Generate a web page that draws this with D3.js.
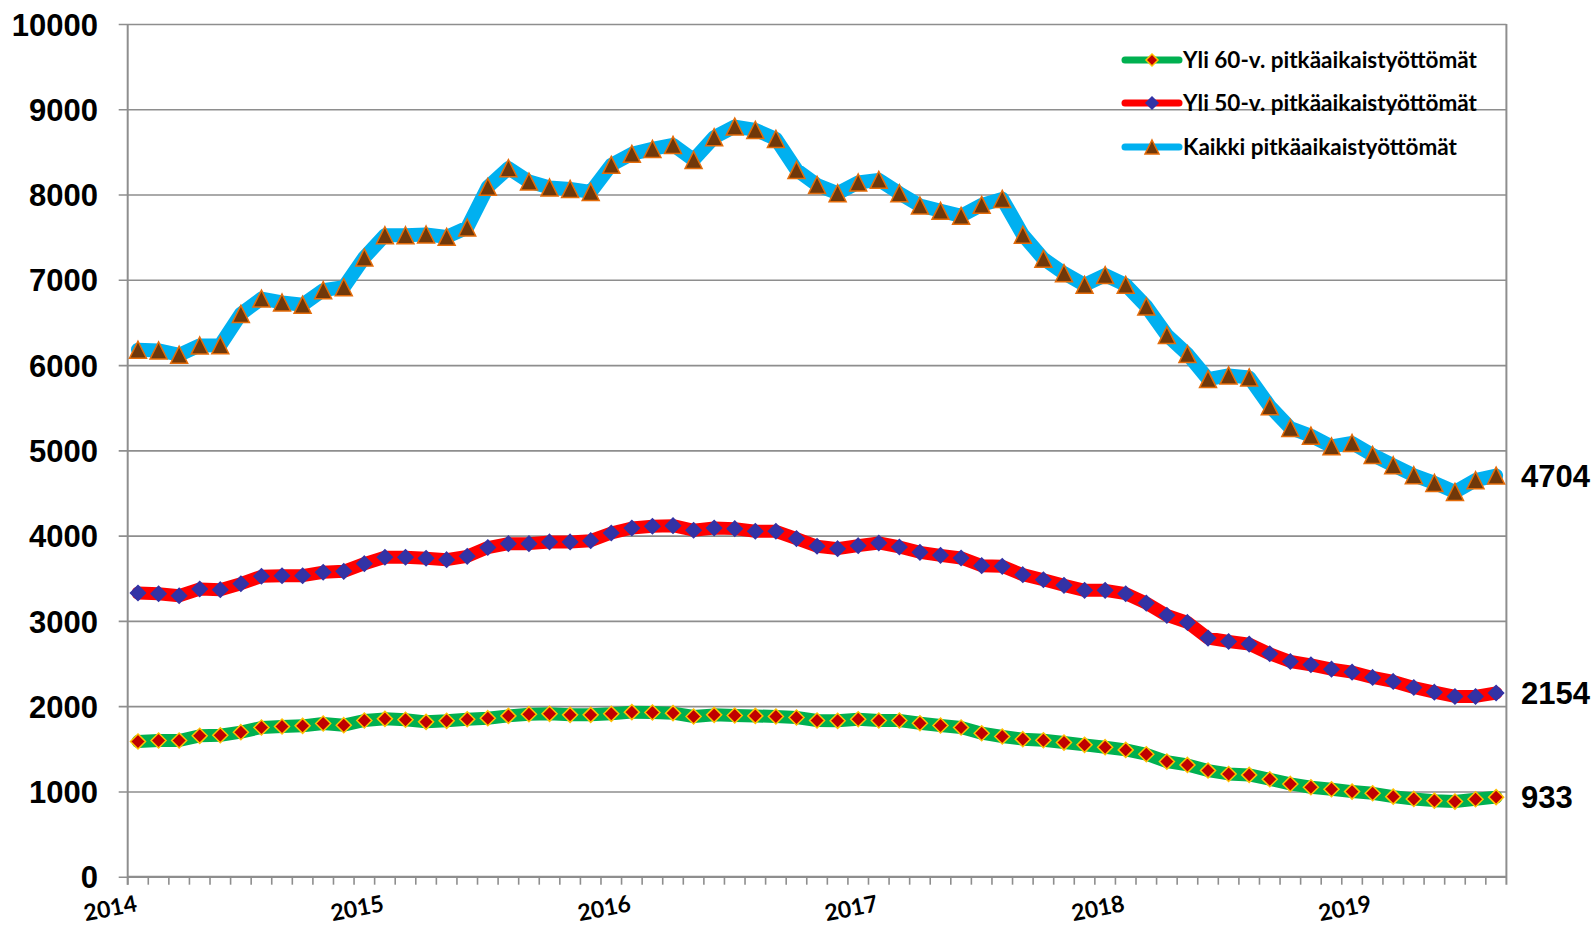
<!DOCTYPE html>
<html>
<head>
<meta charset="utf-8">
<script src="https://cdn.jsdelivr.net/npm/d3@7/dist/d3.min.js"></script>
<style>
  html, body { margin: 0; padding: 0; background: #fff; }
  svg { display: block; }
</style>
</head>
<body>
<svg id="chart" width="1595" height="929"></svg>
<script>
// ---------- DATA ----------
const categories = [
  "1/2014","2/2014","3/2014","4/2014","5/2014","6/2014","7/2014","8/2014","9/2014","10/2014","11/2014","12/2014",
  "1/2015","2/2015","3/2015","4/2015","5/2015","6/2015","7/2015","8/2015","9/2015","10/2015","11/2015","12/2015",
  "1/2016","2/2016","3/2016","4/2016","5/2016","6/2016","7/2016","8/2016","9/2016","10/2016","11/2016","12/2016",
  "1/2017","2/2017","3/2017","4/2017","5/2017","6/2017","7/2017","8/2017","9/2017","10/2017","11/2017","12/2017",
  "1/2018","2/2018","3/2018","4/2018","5/2018","6/2018","7/2018","8/2018","9/2018","10/2018","11/2018","12/2018",
  "1/2019","2/2019","3/2019","4/2019","5/2019","6/2019","7/2019"
];
const yearLabels   = ["2014","2015","2016","2017","2018","2019"];
const yearLabelCat = ["1/2014","1/2015","1/2016","1/2017","1/2018","1/2019"];
const yTicks = [0,1000,2000,3000,4000,5000,6000,7000,8000,9000,10000];

const yli60 = [1585,1597,1597,1652,1659,1695,1750,1761,1769,1796,1777,1832,
  1851,1840,1816,1828,1847,1859,1886,1906,1910,1898,1898,1910,
  1930,1926,1918,1879,1898,1890,1886,1879,1867,1832,1828,1847,
  1832,1832,1800,1773,1750,1683,1644,1613,1600,1573,1546,1519,
  1487,1436,1350,1311,1245,1205,1194,1143,1088,1049,1025,998,
  978,939,912,892,881,908,933];
const yli50 = [3327,3319,3295,3374,3366,3436,3523,3530,3530,3570,3581,3671,
  3746,3746,3734,3718,3757,3860,3906,3906,3926,3926,3941,4031,
  4090,4110,4117,4063,4090,4082,4051,4051,3965,3875,3847,3882,
  3914,3867,3804,3769,3738,3648,3640,3542,3483,3417,3358,3358,
  3319,3209,3065,2982,2798,2759,2728,2614,2524,2485,2434,2399,
  2337,2290,2219,2164,2114,2114,2154];
const kaikki = [6180,6172,6121,6230,6234,6600,6780,6734,6707,6879,6914,7262,
  7523,7523,7531,7504,7613,8090,8309,8152,8082,8066,8031,8348,
  8477,8535,8582,8406,8672,8797,8758,8652,8289,8113,8016,8141,
  8172,8016,7871,7809,7750,7879,7949,7527,7246,7078,6941,7055,
  6941,6688,6352,6129,5836,5879,5855,5516,5262,5172,5047,5086,
  4945,4825,4708,4618,4513,4650,4704];

const seriesNames = ["Yli 60-v. pitkäaikaistyöttömät","Yli 50-v. pitkäaikaistyöttömät","Kaikki pitkäaikaistyöttömät"];

// ---------- STYLES ----------
const seriesStyle = [
  { data: yli60, line: "#00B050", width: 13, marker: "diamond", fill: "#C00000", stroke: "#FFC000", size: 15, legendSize: 12 },
  { data: yli50, line: "#FF0000", width: 13, marker: "diamond", fill: "#3333A6", stroke: "#3333A6", size: 15, legendSize: 12 },
  { data: kaikki, line: "#00B0F0", width: 14, marker: "triangle", fill: "#70380A", stroke: "#E46C0A", size: 17, legendSize: 14 }
];

const W = 1595, H = 929;
const plot = { left: 127.7, right: 1506.4, top: 24, bottom: 876.7 };
const gridColor = "#8E8E8E";

const svg = d3.select("#chart");
svg.append("rect").attr("width", W).attr("height", H).attr("fill", "#fff");

const x = d3.scaleBand().domain(categories).range([plot.left, plot.right]).paddingInner(0).paddingOuter(0);
const y = d3.scaleLinear().domain([0, 10000]).range([plot.bottom, plot.top]);
const cx = c => x(c) + x.bandwidth() / 2;

// gridlines + y ticks (y axis)
const yAxis = d3.axisLeft(y).tickValues(yTicks).tickSize(-(plot.right - plot.left)).tickFormat(d3.format("d")).tickPadding(20);
const gy = svg.append("g").attr("transform", `translate(${plot.left},0)`).call(yAxis);
gy.select(".domain").remove();
gy.selectAll(".tick line").attr("stroke", gridColor).attr("stroke-width", 1.6).attr("x1", -9);
gy.selectAll(".tick text")
  .attr("font-family", "'Liberation Sans', Arial, sans-serif")
  .attr("font-weight", "bold").attr("font-size", 31).attr("fill", "#000")
  .attr("x", 98 - plot.left).attr("dy", "0.36em");

// vertical axis line and right border
svg.append("line").attr("x1", plot.left).attr("x2", plot.left).attr("y1", plot.top).attr("y2", plot.bottom + 8)
  .attr("stroke", gridColor).attr("stroke-width", 2);
svg.append("line").attr("x1", plot.right).attr("x2", plot.right).attr("y1", plot.top).attr("y2", plot.bottom + 8)
  .attr("stroke", gridColor).attr("stroke-width", 2);

// x axis with ticks at category boundaries
const gx = svg.append("g").attr("transform", `translate(0,${plot.bottom})`);
gx.append("line").attr("x1", plot.left).attr("x2", plot.right).attr("stroke", gridColor).attr("stroke-width", 2);
gx.selectAll("line.tk").data(categories).enter().append("line").attr("class", "tk")
  .attr("x1", d => x(d)).attr("x2", d => x(d)).attr("y1", 0).attr("y2", 8)
  .attr("stroke", gridColor).attr("stroke-width", 1.6);

// year labels
svg.selectAll("text.year").data(yearLabels).enter().append("text").attr("class", "year")
  .attr("transform", (d, i) => `translate(${cx(yearLabelCat[i])},911) rotate(-11)`)
  .attr("text-anchor", "end")
  .attr("font-family", "Lato, 'Open Sans', sans-serif").attr("font-weight", "bold")
  .attr("font-size", 23).attr("fill", "#000").text(d => d);

// marker path generators
function markerPath(type, s) {
  const h = s / 2;
  if (type === "diamond") return `M0,${-h}L${h},0L0,${h}L${-h},0Z`;
  return `M0,${-h}L${h},${h}L${-h},${h}Z`;
}

// lines
const lineGen = d3.line().x((d, i) => cx(categories[i])).y(d => y(d));
seriesStyle.forEach(s => {
  svg.append("path").attr("d", lineGen(s.data)).attr("fill", "none")
    .attr("stroke", s.line).attr("stroke-width", s.width)
    .attr("stroke-linejoin", "round").attr("stroke-linecap", "round");
});
seriesStyle.forEach(s => {
  svg.append("g").selectAll("path").data(s.data).enter().append("path")
    .attr("transform", (d, i) => `translate(${cx(categories[i])},${y(d)})`)
    .attr("d", markerPath(s.marker, s.size))
    .attr("fill", s.fill).attr("stroke", s.stroke).attr("stroke-width", 1.5)
    .attr("stroke-linejoin", "miter");
});

// end value labels
seriesStyle.forEach(s => {
  const last = s.data[s.data.length - 1];
  svg.append("text").attr("x", 1521).attr("y", y(last)).attr("dy", "0.36em")
    .attr("font-family", "'Liberation Sans', Arial, sans-serif").attr("font-weight", "bold")
    .attr("font-size", 31).attr("fill", "#000").text(last);
});

// legend
const legendRows = [60, 103, 147];
seriesStyle.forEach((s, i) => {
  const g = svg.append("g").attr("transform", `translate(0,${legendRows[i]})`);
  g.append("line").attr("x1", 1125).attr("x2", 1179).attr("y1", 0).attr("y2", 0)
    .attr("stroke", s.line).attr("stroke-width", 7).attr("stroke-linecap", "round");
  g.append("path").attr("transform", "translate(1152,0)").attr("d", markerPath(s.marker, s.legendSize))
    .attr("fill", s.fill).attr("stroke", s.stroke).attr("stroke-width", 1.5);
  g.append("text").attr("x", 1183).attr("y", 0).attr("dy", "0.35em")
    .attr("font-family", "Lato, 'Open Sans', sans-serif").attr("font-weight", "bold")
    .attr("font-size", 22.5).attr("fill", "#000").text(seriesNames[i]);
});
</script>
</body>
</html>
